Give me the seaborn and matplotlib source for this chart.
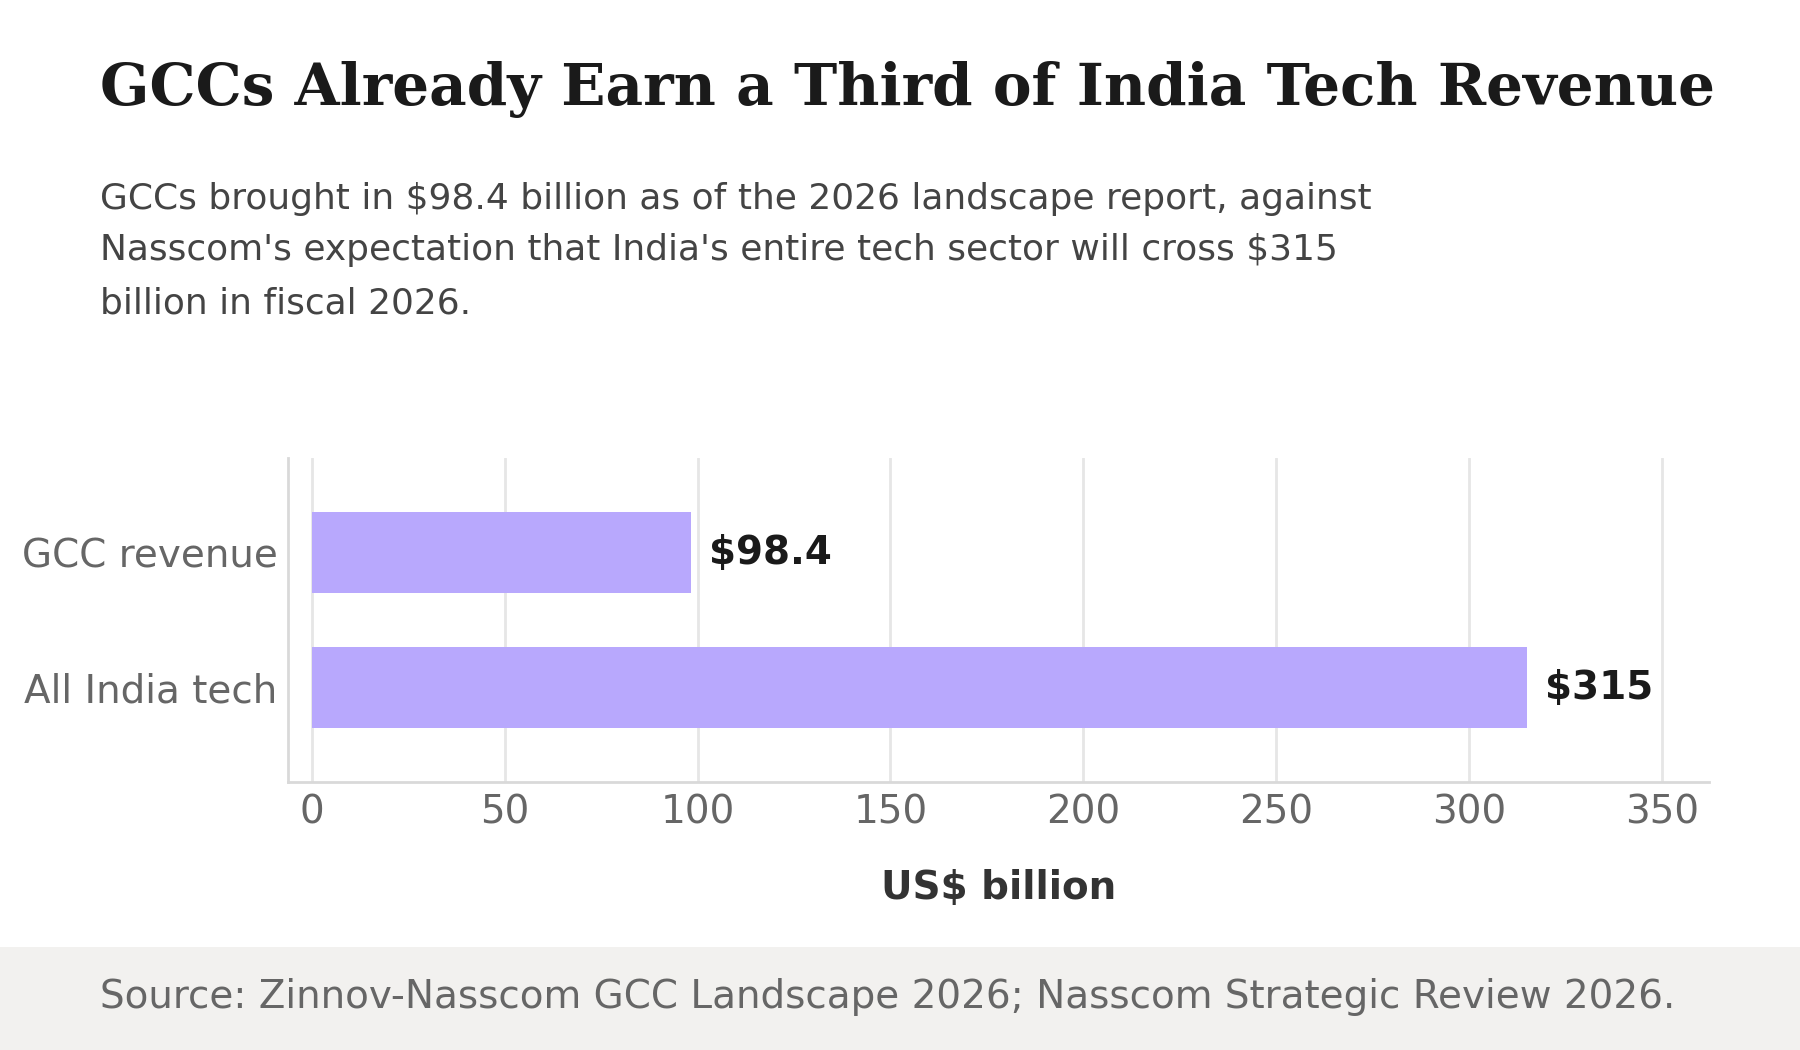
import matplotlib
matplotlib.use("Agg")
import matplotlib.pyplot as plt
import seaborn as sns
import pandas as pd
from matplotlib.patches import Rectangle

categories = ["GCC revenue", "All India tech"]
values = [98.4, 315]
value_labels = ["$98.4", "$315"]
xticks = [0, 50, 100, 150, 200, 250, 300, 350]

title = "GCCs Already Earn a Third of India Tech Revenue"
subtitle_lines = [
    "GCCs brought in $98.4 billion as of the 2026 landscape report, against",
    "Nasscom's expectation that India's entire tech sector will cross $315",
    "billion in fiscal 2026.",
]
source = "Source: Zinnov-Nasscom GCC Landscape 2026; Nasscom Strategic Review 2026."
xlabel = "US$ billion"

sns.set_style("white")
plt.rcParams['font.family'] = ['DejaVu Sans']

df = pd.DataFrame({"category": categories, "value": values})

fig = plt.figure(figsize=(9, 5.25), dpi=200)
fig.patch.set_facecolor("white")

# footer band
fig.patches.append(Rectangle((0, 0), 1, 0.0981, transform=fig.transFigure,
                             facecolor="#f2f1ef", edgecolor="none", zorder=0))

ax = fig.add_axes([0.16, 0.2552, 0.7894, 0.3086])
sns.barplot(data=df, x="value", y="category", orient="h", color="#b8a8fd",
            width=0.6, saturation=1, linewidth=0, edgecolor="none", ax=ax, zorder=3)

ax.set_xlim(-6.2, 362.2)
ax.set_ylim(1.7, -0.7)
ax.set_xticks(xticks)
ax.grid(axis="x", color="#e6e6e6", linewidth=1.0, zorder=0)
ax.grid(axis="y", visible=False)
ax.set_axisbelow(True)
for s in ["top", "right"]:
    ax.spines[s].set_visible(False)
for s in ["left", "bottom"]:
    ax.spines[s].set_color("#d9d9d9")
    ax.spines[s].set_linewidth(1.0)
ax.tick_params(axis="both", length=0, labelsize=14, labelcolor="#666666")
ax.tick_params(axis="x", pad=4.3)
ax.tick_params(axis="y", pad=3.8)
ax.set_ylabel("")
ax.set_xlabel(xlabel, fontsize=14, fontweight="bold", color="#333333", labelpad=13.5)

for i, (v, lab) in enumerate(zip(values, value_labels)):
    ax.text(v + 4.6, i, lab, va="center", ha="left", fontsize=14,
            fontweight="bold", color="#1a1a1a")

fig.text(0.0555, 0.900, title, fontsize=20.9, fontweight="bold",
         family="DejaVu Serif", color="#1a1a1a", va="baseline", ha="left")

sub_y = [0.801, 0.752, 0.701]
for y, line in zip(sub_y, subtitle_lines):
    fig.text(0.0555, y, line, fontsize=12.95, color="#444444", va="baseline", ha="left")

fig.text(0.0555, 0.040, source, fontsize=14, color="#666666", va="baseline", ha="left")

fig.savefig("out.png", dpi=200, facecolor="white")
